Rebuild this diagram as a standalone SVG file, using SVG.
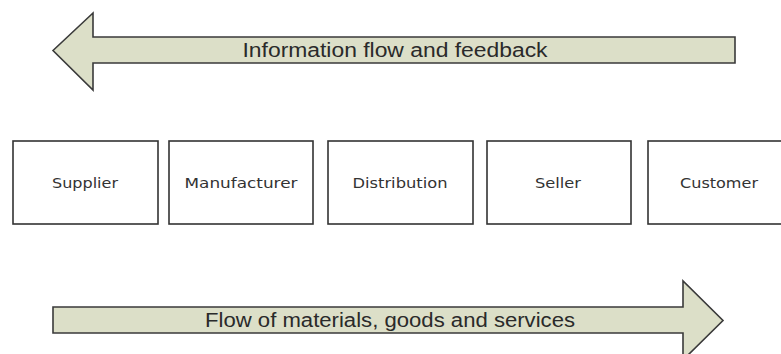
<svg xmlns="http://www.w3.org/2000/svg" width="781" height="354" viewBox="0 0 781 354">
<style>
.arrow{fill:#dcdfc8;stroke:#3a3a3a;stroke-width:1.6;stroke-linejoin:miter}
.box{fill:#ffffff;stroke:#333333;stroke-width:1.6}
.alabel{font-family:"Liberation Sans","Open Sans",sans-serif;font-size:19.5px;fill:#2a2a2a;text-anchor:middle}
.blabel{font-family:"DejaVu Sans","Open Sans",sans-serif;font-size:14px;fill:#333333;text-anchor:middle}
</style>
<rect width="781" height="354" fill="#ffffff"/>
<g id="connectors">
  <g id="info-flow">
    <polygon class="arrow" points="53,50.5 93,13 93,37 735,37 735,63 93,63 93,90"/>
    <text class="alabel" x="395" y="56.5" textLength="305" lengthAdjust="spacingAndGlyphs">Information flow and feedback</text>
  </g>
  <g id="material-flow">
    <polygon class="arrow" points="53,307 683,307 683,281 723,320.5 683,360 683,333 53,333"/>
    <text class="alabel" x="390" y="326.5" textLength="370" lengthAdjust="spacingAndGlyphs">Flow of materials, goods and services</text>
  </g>
</g>
<g id="supplier">
  <rect class="box" x="13" y="141" width="145" height="83"/>
  <text class="blabel" x="85" y="187.5" textLength="66" lengthAdjust="spacingAndGlyphs">Supplier</text>
</g>
<g id="manufacturer">
  <rect class="box" x="169" y="141" width="144" height="83"/>
  <text class="blabel" x="241" y="187.5" textLength="113" lengthAdjust="spacingAndGlyphs">Manufacturer</text>
</g>
<g id="distribution">
  <rect class="box" x="328" y="141" width="145" height="83"/>
  <text class="blabel" x="400" y="187.5" textLength="95" lengthAdjust="spacingAndGlyphs">Distribution</text>
</g>
<g id="seller">
  <rect class="box" x="487" y="141" width="144" height="83"/>
  <text class="blabel" x="558" y="187.5" textLength="46" lengthAdjust="spacingAndGlyphs">Seller</text>
</g>
<g id="customer">
  <rect class="box" x="648" y="141" width="145" height="83"/>
  <text class="blabel" x="719" y="187.5" textLength="78" lengthAdjust="spacingAndGlyphs">Customer</text>
</g>
</svg>
